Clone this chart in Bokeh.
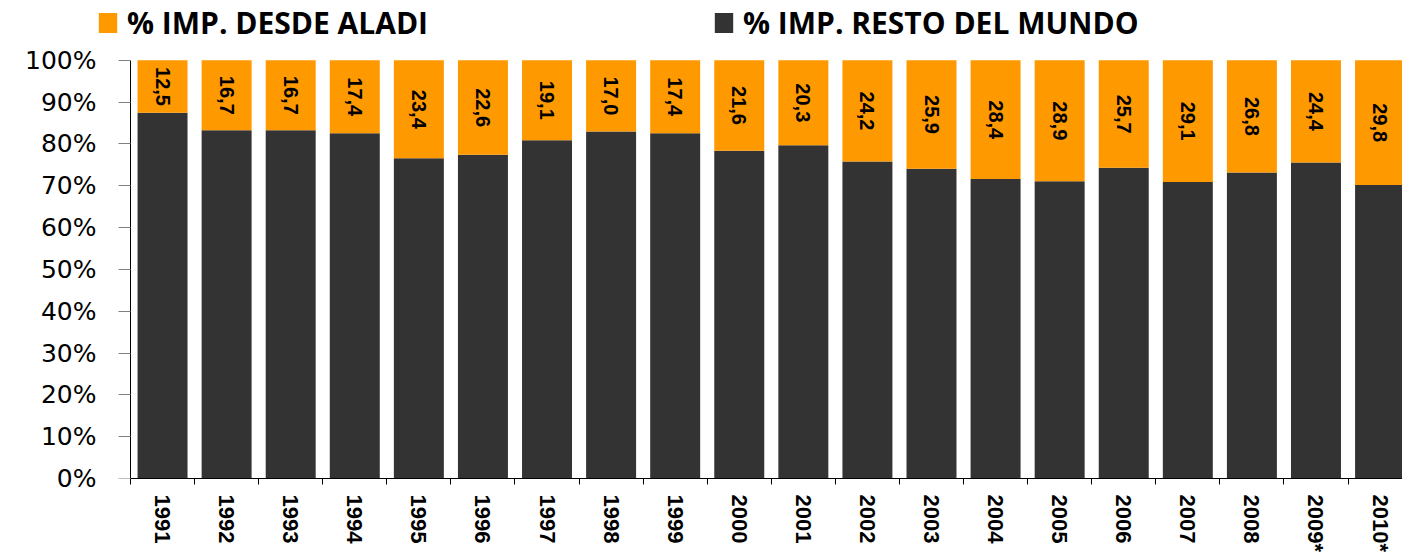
import math
from bokeh.plotting import figure
from bokeh.models import (Range1d, FixedTicker, Legend, LegendItem, LinearAxis,
                          ColumnDataSource, PrintfTickFormatter)
from bokeh.core.properties import value
from bokeh.embed import file_html
from bokeh.resources import INLINE

years = ["1991", "1992", "1993", "1994", "1995", "1996", "1997", "1998", "1999", "2000",
         "2001", "2002", "2003", "2004", "2005", "2006", "2007", "2008", "2009*", "2010*"]
aladi = [12.5, 16.7, 16.7, 17.4, 23.4, 22.6, 19.1, 17.0, 17.4, 21.6,
         20.3, 24.2, 25.9, 28.4, 28.9, 25.7, 29.1, 26.8, 24.4, 29.8]
resto = [87.5, 83.3, 83.3, 82.6, 76.6, 77.4, 80.9, 83.0, 82.6, 78.4,
         79.7, 75.8, 74.1, 71.6, 71.1, 74.3, 70.9, 73.2, 75.6, 70.2]
y_ticks = [0, 10, 20, 30, 40, 50, 60, 70, 80, 90, 100]

ORANGE = "#FF9900"
DARK = "#333333"

# layout in pixels
W, H = 1402, 555
FRAME_L = 96           # left edge of plotting frame
AXIS_X = 130           # where the value axis sits
FRAME_B = 487          # y of the 0% line
TOP_100 = 61           # y of the 100% line
CAT_PX = 64.08         # px per category

xs = list(range(len(years)))
src = ColumnDataSource(dict(
    x=xs, resto=resto, aladi=aladi,
    label=[f"{v:.1f}".replace(".", ",") for v in aladi],
    label_y=[r + a / 2 for r, a in zip(resto, aladi)],
))

x_start = -0.5 - (AXIS_X - FRAME_L) / CAT_PX
x_end = -0.5 + (W - AXIS_X) / CAT_PX
y_end = 100 * FRAME_B / (FRAME_B - TOP_100)

p = figure(width=W, height=H, x_range=Range1d(x_start, x_end), y_range=Range1d(0, y_end),
           output_backend="svg", toolbar_location=None,
           min_border_left=FRAME_L, min_border_right=0, min_border_top=0,
           min_border_bottom=H - FRAME_B)
p.outline_line_color = None
p.xgrid.visible = False
p.ygrid.visible = False

rs = p.vbar_stack(["resto", "aladi"], x="x", width=0.78, color=[DARK, ORANGE],
                  line_color=None, source=src)

p.text(x="x", y="label_y", text="label", source=src, angle=-math.pi / 2,
       text_align="center", text_baseline="middle",
       text_font=value("Liberation Sans"), text_font_style="bold",
       text_font_size="20px", text_color="#000000")

# y axis: labels (in the side panel, next to the frame)
ylab = p.yaxis[0]
ylab.ticker = FixedTicker(ticks=y_ticks)
ylab.formatter = PrintfTickFormatter(format="%d%%")
ylab.major_label_text_font = "DejaVu Sans"
ylab.major_label_text_font_size = "25px"
ylab.major_label_text_color = "#000000"
ylab.major_label_standoff = 0
ylab.major_tick_in = 0
ylab.major_tick_out = 0
ylab.major_tick_line_color = None
ylab.minor_tick_line_color = None
ylab.axis_line_color = None

# y axis: line and ticks at the left edge of the first category (no labels)
yline = LinearAxis(fixed_location=-0.5, bounds=(0, 100),
                   ticker=FixedTicker(ticks=[], minor_ticks=y_ticks),
                   major_label_standoff=0, major_tick_in=0, major_tick_out=0,
                   major_tick_line_color=None,
                   minor_tick_in=0, minor_tick_out=12, minor_tick_line_color="#808080",
                   axis_line_color="#000000")
p.add_layout(yline, "left")

# x axis
p.xaxis.bounds = (-0.5, len(years) - 0.5)
p.xaxis.ticker = FixedTicker(ticks=xs, minor_ticks=[i - 0.5 for i in range(len(years) + 1)])
p.xaxis.major_label_overrides = {i: y for i, y in enumerate(years)}
p.xaxis.major_label_orientation = -math.pi / 2
p.xaxis.major_label_text_font = "Liberation Sans"
p.xaxis.major_label_text_font_style = "bold"
p.xaxis.major_label_text_font_size = "22px"
p.xaxis.major_label_text_color = "#000000"
p.xaxis.major_tick_line_color = None
p.xaxis.major_tick_in = 0
p.xaxis.major_tick_out = 0
p.xaxis.major_label_standoff = 10
p.xaxis.minor_tick_in = 0
p.xaxis.minor_tick_out = 6
p.xaxis.minor_tick_line_color = "#000000"
p.xaxis.axis_line_color = "#000000"


def make_legend(label, renderer, loc):
    lg = Legend(items=[LegendItem(label=label, renderers=[renderer])], location=loc,
                orientation="horizontal", padding=0, margin=0, spacing=0,
                glyph_width=23, glyph_height=25, label_standoff=8,
                border_line_color=None, background_fill_alpha=0,
                label_text_font="Open Sans", label_text_font_style="bold",
                label_text_font_size="30px", label_text_color="#000000")
    p.add_layout(lg, "center")


make_legend("% IMP. DESDE ALADI", rs[1], (0, 435))
make_legend("% IMP. RESTO DEL MUNDO", rs[0], (712 - FRAME_L, 435))

open("out.html", "w").write(file_html(p, INLINE))
